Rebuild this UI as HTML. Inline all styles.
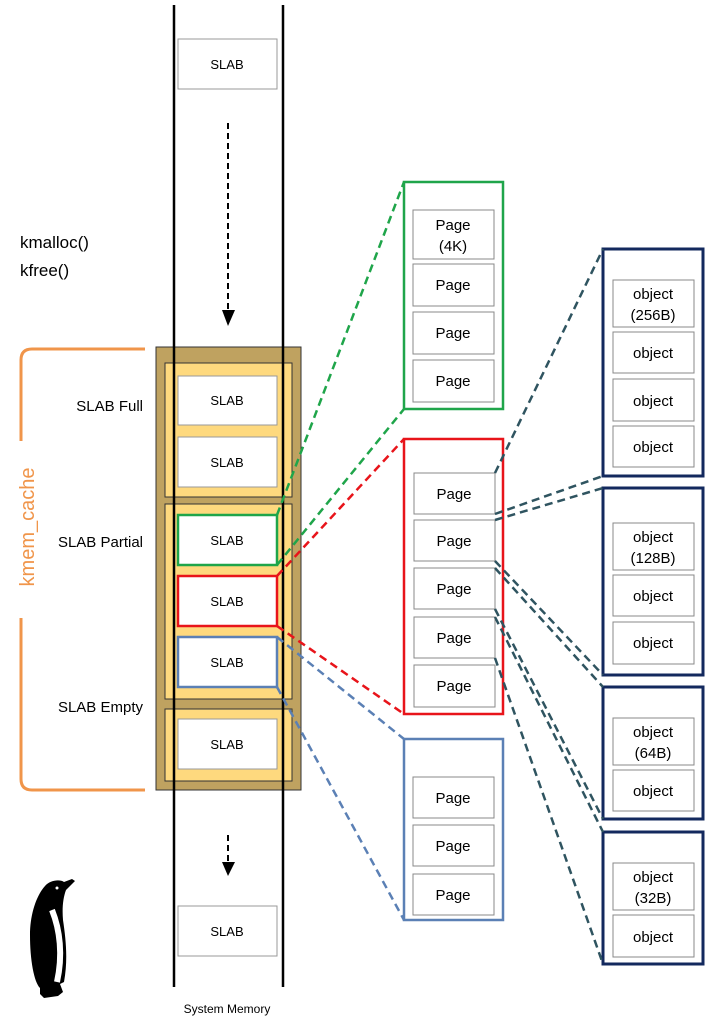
<!DOCTYPE html>
<html><head><meta charset="utf-8"><style>
html,body{margin:0;padding:0;background:#fff;}
svg text{font-family:"Liberation Sans",sans-serif;}
</style></head><body>
<svg width="707" height="1025" viewBox="0 0 707 1025" xmlns="http://www.w3.org/2000/svg">
<rect x="156" y="347" width="145" height="443" fill="#bfa260" stroke="#333" stroke-width="1"/>
<rect x="165" y="363" width="127" height="134" fill="#fed97e" stroke="#333" stroke-width="1"/>
<rect x="165" y="504" width="127" height="195" fill="#fed97e" stroke="#333" stroke-width="1"/>
<rect x="165" y="709" width="127" height="72" fill="#fed97e" stroke="#333" stroke-width="1"/>
<line x1="174" y1="5" x2="174" y2="987" stroke="#000" stroke-width="2.5"/>
<line x1="283" y1="5" x2="283" y2="987" stroke="#000" stroke-width="2.5"/>
<g fill="#fff" stroke="#999" stroke-width="1">
<rect x="178" y="39" width="99" height="50"/>
<rect x="178" y="376" width="99" height="49"/>
<rect x="178" y="437" width="99" height="50"/>
<rect x="178" y="719" width="99" height="50"/>
<rect x="178" y="906" width="99" height="50"/>
</g>
<rect x="178" y="515" width="99" height="50" fill="#fff" stroke="#1fa54a" stroke-width="2.5"/>
<rect x="178" y="576" width="99" height="50" fill="#fff" stroke="#e8141a" stroke-width="2.5"/>
<rect x="178" y="637" width="99" height="50" fill="#fff" stroke="#5b80b5" stroke-width="2.5"/>
<g font-size="13" text-anchor="middle" fill="#000">
<text x="227" y="69">SLAB</text>
<text x="227" y="405">SLAB</text>
<text x="227" y="467">SLAB</text>
<text x="227" y="545">SLAB</text>
<text x="227" y="606">SLAB</text>
<text x="227" y="667">SLAB</text>
<text x="227" y="749">SLAB</text>
<text x="227" y="936">SLAB</text>
</g>
<line x1="228" y1="123" x2="228" y2="312" stroke="#000" stroke-width="2" stroke-dasharray="6,4"/>
<polygon points="222,310 235,310 228,326" fill="#000"/>
<line x1="228" y1="835" x2="228" y2="864" stroke="#000" stroke-width="2" stroke-dasharray="6,4"/>
<polygon points="222,862 235,862 228,876" fill="#000"/>
<g font-size="15" text-anchor="end" fill="#000">
<text x="143" y="411">SLAB Full</text>
<text x="143" y="547">SLAB Partial</text>
<text x="143" y="712">SLAB Empty</text>
</g>
<text x="20" y="248" font-size="17" fill="#000">kmalloc()</text>
<text x="20" y="276" font-size="17" fill="#000">kfree()</text>
<text x="227" y="1013" font-size="12" text-anchor="middle" fill="#000">System Memory</text>
<path d="M145,349 H32 Q21,349 21,360 V441" fill="none" stroke="#f0954a" stroke-width="3"/>
<path d="M21,618 V779 Q21,790 32,790 H145" fill="none" stroke="#f0954a" stroke-width="3"/>
<text transform="translate(34,527) rotate(-90)" font-size="20" text-anchor="middle" fill="#f0954a">kmem_cache</text>
<rect x="404" y="182" width="99" height="227" fill="#fff" stroke="#1fa54a" stroke-width="2.5"/>
<rect x="404" y="439" width="99" height="275" fill="#fff" stroke="#e8141a" stroke-width="2.5"/>
<rect x="404" y="739" width="99" height="181" fill="#fff" stroke="#5b80b5" stroke-width="2.5"/>
<g fill="#fff" stroke="#888" stroke-width="1">
<rect x="413" y="210" width="81" height="49"/>
<rect x="413" y="264" width="81" height="42"/>
<rect x="413" y="312" width="81" height="42"/>
<rect x="413" y="360" width="81" height="42"/>
<rect x="414" y="473" width="81" height="41"/>
<rect x="414" y="520" width="81" height="41"/>
<rect x="414" y="568" width="81" height="41"/>
<rect x="414" y="617" width="81" height="41"/>
<rect x="414" y="665" width="81" height="42"/>
<rect x="413" y="777" width="81" height="41"/>
<rect x="413" y="825" width="81" height="41"/>
<rect x="413" y="874" width="81" height="41"/>
</g>
<g font-size="15" text-anchor="middle" fill="#000">
<text x="453" y="230">Page</text>
<text x="453" y="251">(4K)</text>
<text x="453" y="290">Page</text>
<text x="453" y="338">Page</text>
<text x="453" y="386">Page</text>
<text x="454" y="499">Page</text>
<text x="454" y="546">Page</text>
<text x="454" y="594">Page</text>
<text x="454" y="643">Page</text>
<text x="454" y="691">Page</text>
<text x="453" y="803">Page</text>
<text x="453" y="851">Page</text>
<text x="453" y="900">Page</text>
</g>
<g fill="#fff" stroke="#13295e" stroke-width="3">
<rect x="603" y="249" width="100" height="227"/>
<rect x="603" y="488" width="100" height="187"/>
<rect x="603" y="687" width="100" height="132"/>
<rect x="603" y="832" width="100" height="132"/>
</g>
<g fill="#fff" stroke="#888" stroke-width="1">
<rect x="613" y="280" width="81" height="47"/>
<rect x="613" y="332" width="81" height="41"/>
<rect x="613" y="379" width="81" height="42"/>
<rect x="613" y="426" width="81" height="41"/>
<rect x="613" y="523" width="81" height="47"/>
<rect x="613" y="575" width="81" height="41"/>
<rect x="613" y="622" width="81" height="42"/>
<rect x="613" y="718" width="81" height="47"/>
<rect x="613" y="770" width="81" height="41"/>
<rect x="613" y="863" width="81" height="47"/>
<rect x="613" y="915" width="81" height="42"/>
</g>
<g font-size="15" text-anchor="middle" fill="#000">
<text x="653" y="299">object</text><text x="653" y="320">(256B)</text>
<text x="653" y="358">object</text>
<text x="653" y="406">object</text>
<text x="653" y="452">object</text>
<text x="653" y="542">object</text><text x="653" y="563">(128B)</text>
<text x="653" y="601">object</text>
<text x="653" y="648">object</text>
<text x="653" y="737">object</text><text x="653" y="758">(64B)</text>
<text x="653" y="796">object</text>
<text x="653" y="882">object</text><text x="653" y="903">(32B)</text>
<text x="653" y="942">object</text>
</g>
<g stroke-width="2.5" stroke-dasharray="8,5" fill="none">
<line x1="277" y1="515" x2="404" y2="182" stroke="#1fa54a"/>
<line x1="277" y1="565" x2="404" y2="409" stroke="#1fa54a"/>
<line x1="277" y1="576" x2="404" y2="439" stroke="#e8141a"/>
<line x1="277" y1="626" x2="404" y2="714" stroke="#e8141a"/>
<line x1="277" y1="637" x2="404" y2="739" stroke="#5b80b5"/>
<line x1="277" y1="687" x2="404" y2="920" stroke="#5b80b5"/>
</g>
<g stroke="#2f5460" stroke-width="2.5" stroke-dasharray="8,5" fill="none">
<line x1="495" y1="473" x2="603" y2="249"/>
<line x1="495" y1="514" x2="603" y2="476"/>
<line x1="495" y1="520" x2="603" y2="488"/>
<line x1="495" y1="561" x2="603" y2="675"/>
<line x1="495" y1="568" x2="603" y2="687"/>
<line x1="495" y1="609" x2="603" y2="819"/>
<line x1="495" y1="617" x2="603" y2="832"/>
<line x1="495" y1="658" x2="603" y2="964"/>
</g>
<g fill="#000">
<path d="M45,886 C50,880 60,879 64,882 L72,879 L75,881 L66,890 C63,898 62,908 63,920 C66,940 68,960 64,982 L56,986 L40,988 C34,982 30,960 30,935 C30,915 36,896 45,886 Z"/>
<path d="M40,984 L60,984 L63,992 L58,996 L44,998 L40,994 Z"/>
</g>
<path d="M52,910 C60,930 63,955 57,982" fill="none" stroke="#fff" stroke-width="6"/>
<circle cx="57" cy="888" r="1.5" fill="#fff"/>
</svg>
</body></html>
